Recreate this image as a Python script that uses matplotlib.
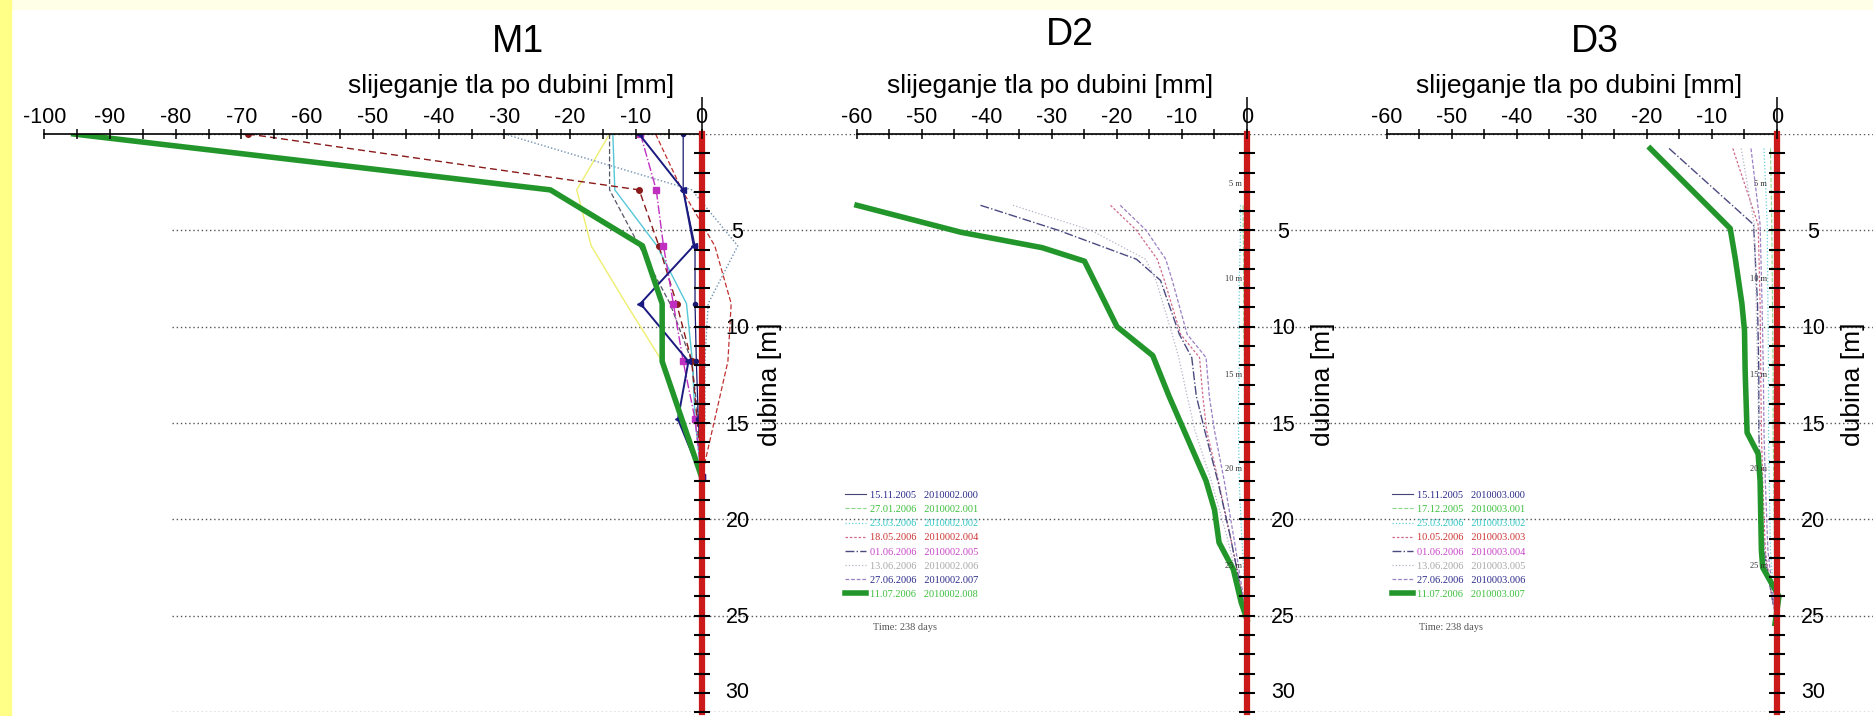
import matplotlib
matplotlib.use("Agg")
import matplotlib.pyplot as plt
from matplotlib.patches import Rectangle

plt.rcParams["font.family"] = ["Liberation Sans", "DejaVu Sans"]
plt.rcParams["axes.unicode_minus"] = False

# ---------------- data (depth [m], settlement [mm]) ----------------
# M1, readings every ~3 m
m1_depth = [0, 2.9, 5.8, 8.8, 11.8, 14.8, 17.8]
m1_zero = [0, 0, 0, 0, 0, 0, 0]
m1_navy_dots = [-2.8, -2.8, -1.0, -1.0, -0.8, -0.5, 0]
m1_navy = [-9.5, -2.8, -1.2, -9.3, -2.0, -3.6, 0]
m1_magenta = [-9.3, -6.9, -5.8, -4.3, -2.8, -1.0, 0]
m1_darkred = [-69, -9.5, -6.5, -3.8, -1.5, -0.7, 0]
m1_cyan = [-13.5, -13.2, -6.8, -2.3, -1.4, -1.0, 0]
m1_gray = [-14, -14, -9.5, -4.8, -1.5, -0.5, 0]
m1_dotted = [-30, -1.5, 5.5, 1.0, 0.5, 0.5, 0]
m1_red = [-7, -3.0, 2.0, 4.5, 4.0, 2.0, 0]
m1_yellow = [-14, -19, -16.8, -11.5, -6.0, -3.0, 0]
m1_green = [-95.5, -23, -9, -6, -6, -3, 0]

# D2
d2_depth = [3.7, 5.0, 6.5, 7.6, 10.4, 11.6, 13.6, 15.4, 18.0, 21.0, 25.2]
d2_zero = [0, 0, 0, 0, 0, 0, 0, 0, 0, 0, 0]
d2_lgreen = [-0.6, -0.6, -0.5, -0.5, -0.5, -0.4, -0.4, -0.3, -0.3, -0.2, 0]
d2_cyan = [-1.0, -1.0, -1.1, -1.2, -1.2, -1.2, -1.3, -1.3, -1.2, -0.8, 0]
d2_pink = [-21, -17, -13.8, -12.7, -10.2, -7.3, -6.8, -6.2, -4.4, -2.5, 0]
d2_navy = [-41, -29, -17, -13.3, -10.4, -8.5, -7.8, -6.5, -4.5, -2.5, 0]
d2_gray = [-36, -24, -15.6, -14, -11.5, -10.5, -9.2, -8, -5.5, -3, 0]
d2_purple = [-19.5, -15.5, -12.5, -11.5, -9.2, -6.3, -5.8, -5.0, -3.5, -2.0, 0]
d2_green_depth = [3.7, 5.1, 5.9, 6.6, 10.0, 11.5, 13.6, 18.0, 19.5, 21.2, 22.6, 24.3, 25.2]
d2_green = [-60, -44, -31.5, -25, -20, -14.5, -12, -6.3, -5, -4.3, -2.1, -0.9, 0]

# D3
d3_depth = [0.75, 4.7, 8.8, 12.3, 15.5, 18.0, 21.6, 24.0, 25.4]
d3_zero = [0, 0, 0, 0, 0, 0, 0, 0, 0]
d3_lgreen = [-1.0, -0.8, -0.7, -0.6, -0.6, -0.5, -0.4, -0.2, 0]
d3_cyan = [-2.0, -1.5, -1.4, -1.3, -1.3, -1.2, -1.0, -0.5, 0]
d3_pink = [-6.8, -2.9, -2.6, -2.5, -2.4, -2.2, -1.8, -0.8, 0]
d3_navy = [-16.6, -3.6, -3.0, -2.8, -2.8, -2.5, -2.0, -0.8, 0]
d3_gray = [-5.5, -3.5, -3.2, -3.0, -2.8, -2.6, -2.0, -0.8, 0]
d3_purple = [-4.0, -2.6, -2.3, -2.1, -2.0, -1.8, -1.4, -0.6, 0]
d3_green_depth = [0.75, 4.9, 5.3, 6.5, 8.8, 10.2, 12.3, 15.5, 16.6, 18.0, 21.6, 22.5, 24.0, 25.4]
d3_green = [-19.5, -7.2, -7.0, -6.4, -5.4, -5.0, -4.9, -4.6, -2.9, -2.6, -2.4, -2.2, 0.3, -0.3]

# legend texts
d2_dates = ["15.11.2005", "27.01.2006", "23.03.2006", "18.05.2006",
            "01.06.2006", "13.06.2006", "27.06.2006", "11.07.2006"]
d2_codes = ["2010002.000", "2010002.001", "2010002.002", "2010002.004",
            "2010002.005", "2010002.006", "2010002.007", "2010002.008"]
d3_dates = ["15.11.2005", "17.12.2005", "25.03.2006", "10.05.2006",
            "01.06.2006", "13.06.2006", "27.06.2006", "11.07.2006"]
d3_codes = ["2010003.000", "2010003.001", "2010003.002", "2010003.003",
            "2010003.004", "2010003.005", "2010003.006", "2010003.007"]
legend_colors = ["#2a2a8a", "#3cbf3c", "#33c6c6", "#cc3333",
                 "#c844c8", "#a8a8a8", "#2a2a8a", "#3cbf3c"]
elapsed = "Time: 238 days"

grid_depths = [0, 5, 10, 15, 20, 25, 30]
depth_labels = [5, 10, 15, 20, 25, 30]
inner_depths = [2.6, 7.5, 12.5, 17.4, 22.4]
inner_labels = ["5 m", "10 m", "15 m", "20 m", "25 m"]

# ---------------- layout ----------------
W, H = 1874, 716
Y0 = 134.0      # pixel row of depth 0
PPM = 19.27     # pixels per metre
RED = "#cc1a1a"
GREEN = "#22962a"

fig = plt.figure(figsize=(W / 100, H / 100), dpi=100)
fig.patch.set_facecolor("white")
fig.patches.append(Rectangle((0, 1 - 9 / H), 1, 9 / H, transform=fig.transFigure,
                             color="#fffee6", zorder=0))
fig.patches.append(Rectangle((0, 0), 11 / W, 1, transform=fig.transFigure,
                             color="#ffff88", zorder=0))


def panel(name, zero_px, ppu, left_px, right_px, axis_min, grid_from,
          title_x, title_d, sub_x, ylab_px):
    xlo = (left_px - zero_px) / ppu
    xhi = (right_px - zero_px) / ppu
    ax = fig.add_axes([left_px / W, 1 - (Y0 + 30 * PPM) / H,
                       (right_px - left_px) / W, 30 * PPM / H])
    ax.set_xlim(xlo, xhi)
    ax.set_ylim(30, 0)
    ax.patch.set_visible(False)
    ax.spines["left"].set_visible(False)
    ax.spines["bottom"].set_visible(False)
    ax.spines["top"].set_bounds(axis_min, 0)
    ax.spines["top"].set_linewidth(1.2)
    ax.spines["right"].set_position(("data", 0))
    ax.spines["right"].set_bounds(0, 30)
    ax.spines["right"].set_color(RED)
    ax.spines["right"].set_linewidth(4.5)
    ax.spines["right"].set_zorder(2.6)

    ax.xaxis.set_ticks_position("top")
    ax.set_xticks(range(axis_min, 1, 10))
    ax.set_xticks(range(axis_min + 5, 0, 10), minor=True)
    ax.tick_params(axis="x", which="both", direction="inout", length=7,
                   width=1.1, pad=0.5, labelsize=15.5)
    ax.yaxis.set_ticks_position("right")
    ax.set_yticks(depth_labels)
    ax.set_yticks([d for d in range(1, 31) if d % 5], minor=True)
    ax.tick_params(axis="y", which="both", direction="inout", length=11,
                   width=1.5, color="black", labelright=False)
    ax.xaxis.set_zorder(3)
    ax.yaxis.set_zorder(3)

    ax.hlines(grid_depths, grid_from, xhi, colors="#555555",
              linestyles=(0, (1, 2)), linewidth=1, zorder=0.5)
    ax.vlines(0, -1.9, 0, colors="black", linewidth=1.1, clip_on=False)

    lab_x = 36 / ppu
    for d in depth_labels:
        y = d + 0.39 if d < 30 else 29.25
        ax.text(lab_x, y, str(d), ha="center", va="baseline", fontsize=15.5)
    ax.text(ylab_px / ppu, 13, "dubina [m]", rotation=90, ha="center",
            va="center", fontsize=19)
    ax.text(title_x, title_d, name, ha="center", va="baseline", fontsize=27)
    ax.text(sub_x, -2.13, "slijeganje tla po dubini [mm]", ha="center",
            va="baseline", fontsize=19)
    return ax


# ---------------- M1 ----------------
ax1 = panel("M1", 701.6, 6.574, 31, 820, -100, -80.6, -28, -4.27, -29, 68)
ax1.plot(m1_zero, m1_depth, color="#333366", lw=0.8)
ax1.plot(m1_yellow, m1_depth, color="#eeee70", lw=1.0)
ax1.plot(m1_dotted, m1_depth, color="#6f8fb0", lw=1.0, ls=(0, (1, 1.5)))
ax1.plot(m1_gray, m1_depth, color="#555566", lw=0.9, ls=(0, (4, 2)))
ax1.plot(m1_cyan, m1_depth, color="#55c8d8", lw=1.0)
ax1.plot(m1_red, m1_depth, color="#c03030", lw=0.9, ls=(0, (4, 2)))
ax1.plot(m1_darkred, m1_depth, color="#8a1a1a", lw=1.0, ls=(0, (5, 3)),
         marker="o", ms=4)
ax1.plot(m1_magenta, m1_depth, color="#c030c0", lw=1.0, ls="-.",
         marker="s", ms=5)
ax1.plot(m1_navy_dots, m1_depth, color="#1a1a70", lw=0.9, marker="o", ms=3)
ax1.plot(m1_navy, m1_depth, color="#1a1a80", lw=1.4, marker="<", ms=4)
ax1.plot(m1_green, m1_depth, color=GREEN, lw=4)


def d_panel(name, zero_px, left_px, right_px, title_x, title_d, sub_x,
            depth, zero, lgreen, cyan, pink, navy, gray, purple, g_depth, green,
            dates, codes, leg_x, lab_right):
    ax = panel(name, zero_px, 6.5, left_px, right_px, -60, (left_px - zero_px) / 6.5,
               title_x, title_d, sub_x, 76)
    h = []
    h += ax.plot(zero, depth, color="#444477", lw=0.8)
    h += ax.plot(lgreen, depth, color="#88d888", lw=0.8, ls="--")
    h += ax.plot(cyan, depth, color="#66d0d8", lw=0.9, ls=":")
    h += ax.plot(pink, depth, color="#d06a8a", lw=0.9, ls=(0, (2, 1.5)))
    h += ax.plot(navy, depth, color="#4a4a80", lw=1.0, ls="-.")
    h += ax.plot(gray, depth, color="#b4b4c8", lw=0.9, ls=":")
    h += ax.plot(purple, depth, color="#9a80c4", lw=0.9, ls=(0, (3, 1.5)))
    h += ax.plot(green, g_depth, color=GREEN, lw=4)
    for d, t in zip(inner_depths, inner_labels):
        ax.text(lab_right, d, t, ha="right", va="center", fontsize=6,
                color="#333333", family="Liberation Serif")
    labels = [f"{a}   {b}" for a, b in zip(dates, codes)]
    leg = ax.legend(h, labels, loc="upper left", bbox_to_anchor=(leg_x, 18.5),
                    bbox_transform=ax.transData, frameon=False,
                    prop={"family": "Liberation Serif", "size": 7.5},
                    handlelength=2.0, handletextpad=0.4, labelspacing=0.47,
                    borderaxespad=0, borderpad=0)
    for txt, c in zip(leg.get_texts(), legend_colors):
        txt.set_color(c)
    ax.text(leg_x + 4.2, 25.6, elapsed, ha="left", va="center", fontsize=7.5,
            family="Liberation Serif", color="#555555")
    return ax


d_panel("D2", 1247, 820, 1330, -27.3, -4.62, -30.3, d2_depth, d2_zero, d2_lgreen,
        d2_cyan, d2_pink, d2_navy, d2_gray, d2_purple, d2_green_depth, d2_green,
        d2_dates, d2_codes, -61.8, -0.8)
d_panel("D3", 1777, 1330, 1874, -28, -4.27, -30.5, d3_depth, d3_zero, d3_lgreen,
        d3_cyan, d3_pink, d3_navy, d3_gray, d3_purple, d3_green_depth, d3_green,
        d3_dates, d3_codes, -59.2, -1.5)

fig.savefig("out.png", dpi=100)
